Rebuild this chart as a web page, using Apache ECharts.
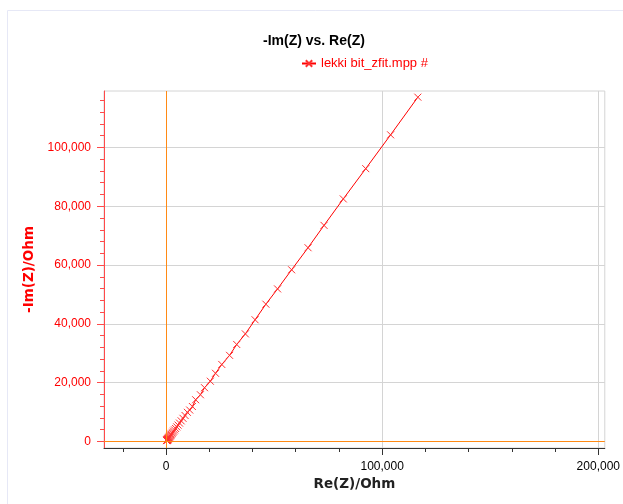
<!DOCTYPE html>
<html>
<head>
<meta charset="utf-8">
<script src="https://cdn.jsdelivr.net/npm/echarts@6/dist/echarts.min.js"></script>
<style>html,body{margin:0;padding:0;background:#fff;}#c{width:623px;height:504px;}</style>
</head>
<body>
<div id="c"></div>
<script>
// Data (Ohm)
var reZ = [310, 350, 395, 445, 500, 560, 630, 705, 790, 885, 995, 1115, 1250, 1400, 1570, 1760, 1975, 2215, 2485, 2790, 3130, 3510, 3940, 4420, 4960, 5560, 6240, 7000, 7850, 8810, 9880, 10950, 12200, 13700, 15900, 17800, 20500, 22900, 25800, 29400, 32700, 36700, 41200, 46200, 51600, 58100, 65700, 73100, 82000, 92400, 103900, 116500];
var negImZ = [290, 335, 385, 440, 495, 555, 625, 700, 785, 880, 990, 1110, 1245, 1400, 1570, 1760, 1975, 2215, 2490, 2790, 3130, 3515, 3945, 4430, 4970, 5580, 6260, 7025, 7880, 8840, 9920, 10700, 11900, 14200, 15900, 18300, 20500, 23200, 26200, 29300, 33000, 36600, 41400, 46700, 51900, 58400, 65900, 73500, 82500, 92800, 104300, 117100];
var seriesName = 'lekki bit_zfit.mpp #';
var titleText = '-Im(Z) vs. Re(Z)';
var xName = 'Re(Z)/Ohm';
var yName = '-Im(Z)/Ohm';
var xMajor = [0, 100000, 200000];
var xMinor = [-20000, 0, 20000, 40000, 60000, 80000, 100000, 120000, 140000, 160000, 180000, 200000];
var yLabels = [0, 20000, 40000, 60000, 80000, 100000];
var yGrid = [20000, 40000, 60000, 80000, 100000];
var yMinor = [0, 4000, 8000, 12000, 16000, 20000, 24000, 28000, 32000, 36000, 40000, 44000, 48000, 52000, 56000, 60000, 64000, 68000, 72000, 76000, 80000, 84000, 88000, 92000, 96000, 100000, 104000, 108000, 112000, 116000];
var xRange = [-28700, 203000];
var yRange = [-2210, 119200];

var pts = reZ.map(function (v, i) { return [v, negImZ[i]]; });
function fmt(v) { return Number(v).toLocaleString('en-US'); }
var red = '#ff0000';
var orange = '#ff8a14';
var grey = '#d4d4d4';

function tickAxis(range, pos, values, len, color) {
  return {
    type: 'value', min: range[0], max: range[1], position: pos,
    axisLine: {show: false, onZero: false},
    axisTick: {show: true, length: len, customValues: values, lineStyle: {color: color}},
    axisLabel: {show: false},
    splitLine: {show: false}
  };
}

var chart = echarts.init(document.getElementById('c'), null, {renderer: 'canvas'});
chart.setOption({
  animation: false,
  backgroundColor: '#ffffff',
  graphic: [{
    type: 'rect', left: 5, top: 8, silent: true, z: -10,
    shape: {width: 700, height: 600},
    style: {fill: 'none', stroke: '#e6e8f6', lineWidth: 1}
  }],
  title: {
    text: titleText, left: 258, top: 29,
    textStyle: {fontFamily: 'Liberation Sans, Arial', fontSize: 14, fontWeight: 'bold', color: '#000'}
  },
  legend: {
    left: 296, top: 52, itemWidth: 14, itemHeight: 8, itemGap: 4,
    textStyle: {fontFamily: 'Liberation Sans, Arial', fontSize: 13, color: red},
    data: [seriesName]
  },
  grid: {left: 104, right: 16, top: 91, bottom: 56, show: true, borderColor: grey, borderWidth: 1, backgroundColor: 'transparent'},
  xAxis: [{
    type: 'value', min: xRange[0], max: xRange[1], position: 'bottom',
    name: xName, nameLocation: 'middle', nameGap: 28,
    nameTextStyle: {fontFamily: 'DejaVu Sans', fontSize: 13.5, fontWeight: 'bold', color: '#222'},
    axisLine: {onZero: false, lineStyle: {color: '#333', width: 1}},
    axisTick: {show: true, length: 7, customValues: xMajor, lineStyle: {color: '#333'}},
    axisLabel: {customValues: xMajor, formatter: fmt, margin: 13, color: '#000', fontFamily: 'Liberation Sans, Arial', fontSize: 12},
    splitLine: {show: true, lineStyle: {color: grey, width: 1}}
  }, tickAxis(xRange, 'bottom', xMinor, 4, '#333')],
  yAxis: [{
    type: 'value', min: yRange[0], max: yRange[1], position: 'left',
    name: yName, nameLocation: 'middle', nameGap: 63, nameRotate: 90,
    nameTextStyle: {fontFamily: 'DejaVu Sans', fontSize: 13.5, fontWeight: 'bold', color: red},
    axisLine: {show: true, onZero: false, lineStyle: {color: '#ff4a4a', width: 1}},
    axisTick: {show: true, length: 7, customValues: yGrid, lineStyle: {color: '#ff4a4a'}},
    axisLabel: {customValues: yLabels, formatter: fmt, margin: 13, color: red, fontFamily: 'Liberation Sans, Arial', fontSize: 12},
    splitLine: {show: true, lineStyle: {color: grey, width: 1}}
  }, tickAxis(yRange, 'left', yMinor, 4, '#ff4a4a'), tickAxis(yRange, 'left', [0], 7, '#ff4a4a')],
  series: [{
    name: seriesName, type: 'line', xAxisIndex: 0, yAxisIndex: 0,
    data: pts,
    symbol: 'path://M0,0L10,10M10,0L0,10',
    symbolSize: 7,
    showSymbol: true,
    color: red,
    lineStyle: {color: red, width: 1},
    itemStyle: {color: red, borderColor: '#ff3030', borderWidth: 1},
    z: 3,
    markLine: {
      silent: true, symbol: 'none',
      label: {show: false},
      lineStyle: {color: orange, type: 'solid', width: 1},
      data: [{xAxis: 0}, {yAxis: 0}]
    }
  }]
});
</script>
</body>
</html>
